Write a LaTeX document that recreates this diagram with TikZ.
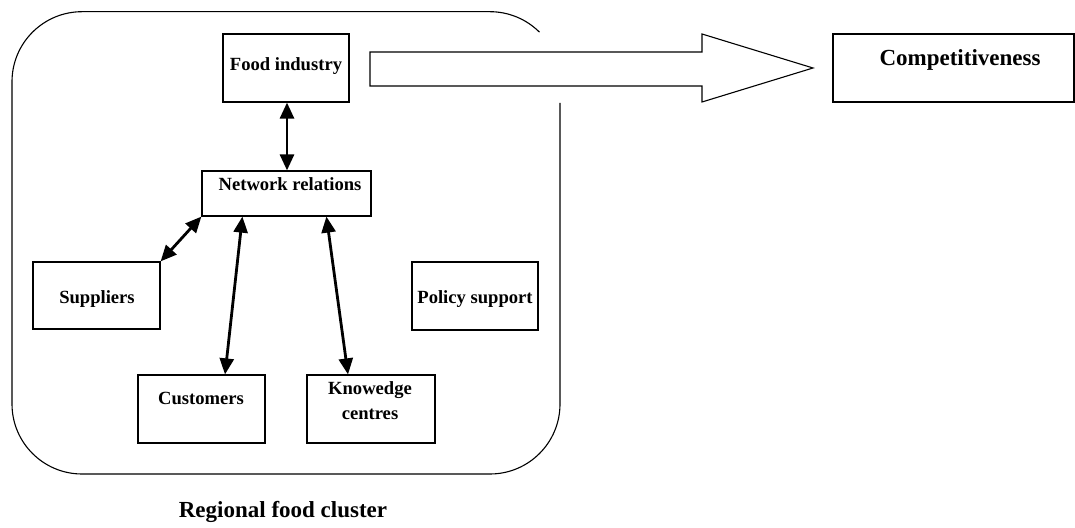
\documentclass[tikz,border=0pt]{standalone}
\usepackage{fontspec}
\setmainfont{Liberation Serif}
\usetikzlibrary{arrows.meta}
\tikzset{
  box/.style={draw, line width=1.2pt, inner sep=0pt, minimum width=#1},
  lbl/.style={font=\fontsize{18.6}{21}\selectfont\bfseries, inner sep=0pt, align=center},
  biglbl/.style={font=\fontsize{23}{26}\selectfont\bfseries, inner sep=0pt},
  link/.style={line width=2.8pt, {Triangle[length=16pt,width=14pt]}-{Triangle[length=16pt,width=14pt]}},
  frame/.style={line width=1.1pt},
}
\begin{document}
\begin{tikzpicture}[x=1pt,y=1pt]
\useasboundingbox (0,0) rectangle (1075,527);
% cluster frame (open at the top right)
\draw[frame] (560,424) -- (560,123) arc (0:-90:70) -- (82,53) arc (-90:-180:70)
  -- (12,445.3) arc (180:90:70) -- (490,515.3) arc (90:45:70);
% boxes
\node[box=126pt, minimum height=68pt] (food) at (286,459) {};
\node[box=169pt, minimum height=45pt] (net) at (286.5,333.5) {};
\node[box=127pt, minimum height=67pt] (sup) at (96.5,231.5) {};
\node[box=126pt, minimum height=68pt] (pol) at (475,231) {};
\node[box=127pt, minimum height=68pt] (cus) at (201.5,118) {};
\node[box=128pt, minimum height=68pt] (kno) at (371,118) {};
\node[box=241pt, minimum height=68pt] (comp) at (953.5,459) {};
% texts
\node[lbl] (tfood) at (286,461) {Food industry};
\node[lbl] (tnet) at (290,343) {Network relations};
\node[lbl] (tsup) at (97,228) {Suppliers};
\node[lbl] (tpol) at (475,228) {Policy support};
\node[lbl] (tcus) at (201,129) {Customers};
\node[lbl, text width=120pt] (tkno) at (370,126.5) {Knowedge\\[4pt]centres};
\node[biglbl] (tcomp) at (960,467) {Competitiveness};
\node[biglbl] (tclu) at (283,15) {Regional food cluster};
% links
\draw[link] (food.south -| 287,0) -- (net.north -| 287,0);
\draw[link] (sup.north east) -- (net.south west);
\draw[link] ([xshift=41pt]net.south west) -- ([xshift=23.5pt]cus.north);
\draw[link] ([xshift=125pt]net.south west) -- ([xshift=-23pt]kno.north);
% big block arrow
\draw[line width=1.1pt, fill=white] (370,475) -- (702,475) -- (702,493) -- (813,459)
  -- (702,425) -- (702,441) -- (370,441) -- cycle;
\end{tikzpicture}
\end{document}
